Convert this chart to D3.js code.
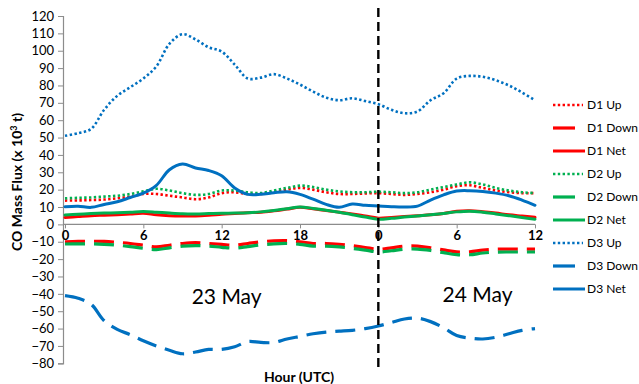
<!DOCTYPE html>
<html><head><meta charset="utf-8">
<script src="https://cdn.jsdelivr.net/npm/d3@7"></script>
<style>body{margin:0;background:#fff}svg{display:block}</style>
</head><body>
<svg id="c" width="639" height="384"></svg>
<script>
const hours = d3.range(0, 37);
const xTickValues = [0, 6, 12, 18, 24, 30, 36];
const xTickLabels = ["0", "6", "12", "18", "0", "6", "12"];
const yTickValues = d3.range(-80, 121, 10);

const d1Up   = [13.7,13.8,14,14.3,15,16,17.5,17.5,16.5,15.5,14.5,15.5,18,18.5,17.5,17.5,18.5,20,21,20,18.5,17.5,17.5,17.8,18,17.5,17,17.5,18.5,20,22,22.5,21,19.5,18.5,18,18];
const d1Down = [-10,-9.8,-9.7,-9.8,-10.3,-11,-12,-13,-12,-11,-10.5,-11,-11.5,-12,-11,-10,-9.5,-9.4,-10,-11,-11,-11.5,-12.3,-13.3,-14.3,-13.5,-12.5,-12.5,-13.5,-14.7,-15.8,-15.8,-14.8,-14.3,-14.2,-14.3,-14.3];
const d1Net  = [4,4.5,5,5.3,5.6,6,6.4,5.5,5,4.8,4.8,5.2,5.8,6.3,6.7,7,7.8,8.8,9.8,9,8,7,6,4.8,3.6,4,4.5,5,5.5,6.3,7.5,7.8,7.3,6.5,5.5,4.8,4.1];
const d2Up   = [15,15.3,15.5,16,16.5,17.5,19,20.5,19.5,18,17,17.5,19.5,19.5,18.5,18,19.5,21,22.3,21.5,20,19,18.5,18.5,18.8,18.5,18,18.5,20,21.5,23,24.2,23,21,19.5,18.5,18];
const d2Down = [-11.3,-11.2,-11.2,-11.5,-12,-12.8,-13.8,-14.5,-13.5,-12.5,-12.2,-12.5,-13.2,-13.7,-12.8,-11.8,-11.2,-11,-11.5,-12.5,-12.5,-13,-13.8,-14.8,-15.9,-15.2,-14.3,-14.2,-15,-16.3,-17.4,-17.5,-16.5,-16,-15.9,-15.9,-15.9];
const d2Net  = [5.4,5.8,6.2,6.5,6.7,7,7.4,7,6.5,6.1,6,6.2,6.4,6.5,6.7,7.2,8,9,10,9.2,8.2,7,5.6,4.2,3,3.5,4.2,4.8,5.5,6.3,7.2,7.6,7,6,5,4,3];
const d3Up   = [51,52.5,55,66,74,79,84,91,104,109.5,106.5,102,99.5,92,84,84.5,86.5,84,80.5,76.5,73,71.5,72.6,71,69.2,66,64,65,71.5,75.5,84,85.5,85,83,80,76,71.5];
const d3Down = [-41,-42.5,-46,-55.5,-60.5,-63.5,-67,-70,-72.5,-74.5,-73.5,-72,-72,-70.5,-67.5,-68,-68,-66,-64.5,-63,-62,-61.5,-61,-60,-58.5,-56.5,-54.5,-54,-56,-59.5,-64,-65.5,-66,-65,-63,-61,-60];
const d3Net  = [10.2,10.5,9.8,11.5,13,15.5,18,22.5,31.5,34.8,32.5,31,28,21,17.3,17.3,18.2,18.8,17.3,14.5,11.5,9.8,11.7,11,10.6,10.2,10,10.5,14,17,19.2,19.4,19,18,16.5,14,11];

const seriesNames = ["D1 Up","D1 Down","D1 Net","D2 Up","D2 Down","D2 Net","D3 Up","D3 Down","D3 Net"];
const seriesValues = [d1Up,d1Down,d1Net,d2Up,d2Down,d2Net,d3Up,d3Down,d3Net];
const dayLabels = ["23 May", "24 May"];

const colors = {D1:"#FF0000", D2:"#00B050", D3:"#0070C0"};
const styles = {
  Up:   {w:2.6, dash:"2.4,2.4", cap:"butt"},
  Down: {w:3.2, dash:"20,9", cap:"butt"},
  Net:  {w:3, dash:null, cap:"round"}
};

const svg = d3.select("#c");
const font = "Lato, 'Open Sans', sans-serif";
const x = d3.scaleLinear().domain([0, 36]).range([65, 535]);
const y = d3.scaleLinear().domain([-80, 120]).range([363.3, 16]);
const axisColor = "#8c8c8c";

// Y axis
const yAxis = svg.append("g").attr("transform", "translate(63,0)")
  .call(d3.axisLeft(y).tickValues(yTickValues).tickSize(5).tickPadding(4).tickFormat(d3.format("d")));
yAxis.select(".domain").attr("stroke", axisColor).attr("stroke-width", 1.2);
yAxis.selectAll(".tick line").attr("stroke", axisColor);
yAxis.selectAll(".tick text").attr("font-family", font).attr("font-size", 13).attr("fill", "#000");

// X axis at y=0
const xAxis = svg.append("g").attr("transform", `translate(0,${y(0)})`)
  .call(d3.axisBottom(x).tickValues(xTickValues).tickSize(4).tickPadding(2)
    .tickFormat((d, i) => xTickLabels[i]));
xAxis.select(".domain").attr("stroke", axisColor).attr("stroke-width", 1.2).attr("d", `M${63},0H${x(36)}`);
xAxis.selectAll(".tick line").attr("stroke", axisColor);
xAxis.selectAll(".tick text").attr("font-family", font).attr("font-size", 13)
  .attr("font-weight", "bold").attr("fill", "#000");

// Lines
const line = d3.line().x((d, i) => x(hours[i])).y(d => y(d)).curve(d3.curveCatmullRom.alpha(0.5));
seriesNames.forEach((name, k) => {
  const [grp, kind] = name.split(" ");
  const st = styles[kind];
  svg.append("path").datum(seriesValues[k])
    .attr("d", line).attr("fill", "none")
    .attr("stroke", colors[grp]).attr("stroke-width", st.w)
    .attr("stroke-dasharray", st.dash).attr("stroke-linecap", st.cap)
    .attr("stroke-linejoin", "round");
});

// Day separator
svg.append("line").attr("x1", x(24)).attr("x2", x(24)).attr("y1", 8).attr("y2", 372)
  .attr("stroke", "#000").attr("stroke-width", 2.4).attr("stroke-dasharray", "9,5");

// Day labels
svg.append("text").attr("x", x(12) + 5).attr("y", 304).attr("text-anchor", "middle")
  .attr("font-family", font).attr("font-size", 21).text(dayLabels[0]);
svg.append("text").attr("x", x(31.6)).attr("y", 302).attr("text-anchor", "middle")
  .attr("font-family", font).attr("font-size", 21).text(dayLabels[1]);

// Axis titles
svg.append("text").attr("transform", "translate(22,182) rotate(-90)").attr("text-anchor", "middle")
  .attr("font-family", font).attr("font-size", 14).attr("font-weight", "bold")
  .html('CO Mass Flux (x 10<tspan dy="-5" font-size="9">3</tspan><tspan dy="5"> t)</tspan>');
svg.append("text").attr("x", 299).attr("y", 382).attr("text-anchor", "middle")
  .attr("font-family", font).attr("font-size", 14).attr("font-weight", "bold").text("Hour (UTC)");

// Legend
const lg = svg.append("g");
seriesNames.forEach((name, k) => {
  const [grp, kind] = name.split(" ");
  const st = styles[kind];
  const yy = 105 + k * 23;
  const x2 = kind === "Down" ? 575 : (kind === "Up" ? 583 : 585);
  lg.append("line").attr("x1", 553).attr("x2", x2).attr("y1", yy).attr("y2", yy)
    .attr("stroke", colors[grp]).attr("stroke-width", st.w)
    .attr("stroke-dasharray", kind === "Down" ? null : st.dash);
  lg.append("text").attr("x", 587).attr("y", yy).attr("dy", "0.35em")
    .attr("font-family", font).attr("font-size", 12).text(name);
});
</script>
</body></html>
